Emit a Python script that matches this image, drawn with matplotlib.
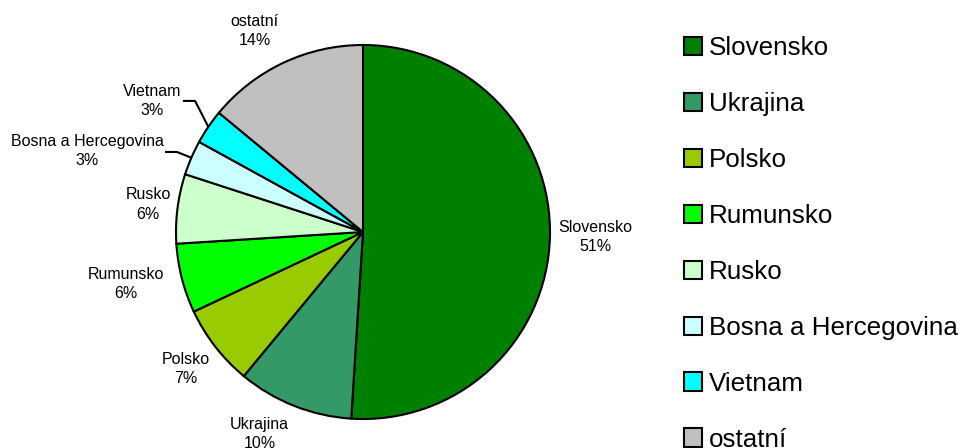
import numpy as np
import matplotlib.pyplot as plt

plt.rcParams['font.family'] = ['Liberation Sans', 'DejaVu Sans']

# podíl cizinců podle státního občanství (%)
zeme = ["Slovensko", "Ukrajina", "Polsko", "Rumunsko", "Rusko",
        "Bosna a Hercegovina", "Vietnam", "ostatní"]
podil = [51, 10, 7, 6, 6, 3, 3, 14]
barvy = ["#008000", "#339966", "#99CC00", "#00FF00", "#CCFFCC",
         "#CCFFFF", "#00FFFF", "#C0C0C0"]

# umístění popisků (v poloměrech koláče)
pozice_popisku = [(1.241, -0.027), (-0.553, -1.080), (-0.949, -0.733),
                  (-1.267, -0.278), (-1.150, 0.147), (-1.476, 0.433),
                  (-1.126, 0.701), (-0.578, 1.075)]
# odkazové čáry pro malé výseče: konec u textu, zlom
odkazy = {5: [(-1.059, 0.428), (-0.995, 0.428)],
          6: [(-0.963, 0.701), (-0.898, 0.701)]}

W, H = 964, 448
cx, cy, R = 363, 232, 187

fig = plt.figure(figsize=(W / 100, H / 100), dpi=100)
ax = fig.add_axes([0, 0, 1, 1])
ax.axis('off')

wedges, _ = ax.pie(podil, colors=barvy, startangle=90, counterclock=False,
                   radius=1.0, wedgeprops=dict(edgecolor='black', linewidth=1.5))
ax.set_xlim(-cx / R, (W - cx) / R)
ax.set_ylim(-(H - cy) / R, cy / R)
ax.set_aspect('equal')

for i, w in enumerate(wedges):
    x, y = pozice_popisku[i]
    ax.text(x, y, f"{zeme[i]}\n{podil[i]}%", ha='center', va='center',
            fontsize=11.5, linespacing=1.4)
    if i in odkazy:
        stred = np.deg2rad((w.theta1 + w.theta2) / 2)
        body = odkazy[i] + [(np.cos(stred), np.sin(stred))]
        xs, ys = zip(*body)
        ax.plot(xs, ys, color='black', lw=1.5, solid_capstyle='butt')

fig.legend(wedges, zeme, loc='upper left', bbox_to_anchor=(684 / W, 1 - 36 / H),
           frameon=False, fontsize=18.7, handlelength=0.7, handleheight=0.7,
           handletextpad=0.25, labelspacing=1.23, borderpad=0, borderaxespad=0)

fig.savefig('out.png', dpi=100)
